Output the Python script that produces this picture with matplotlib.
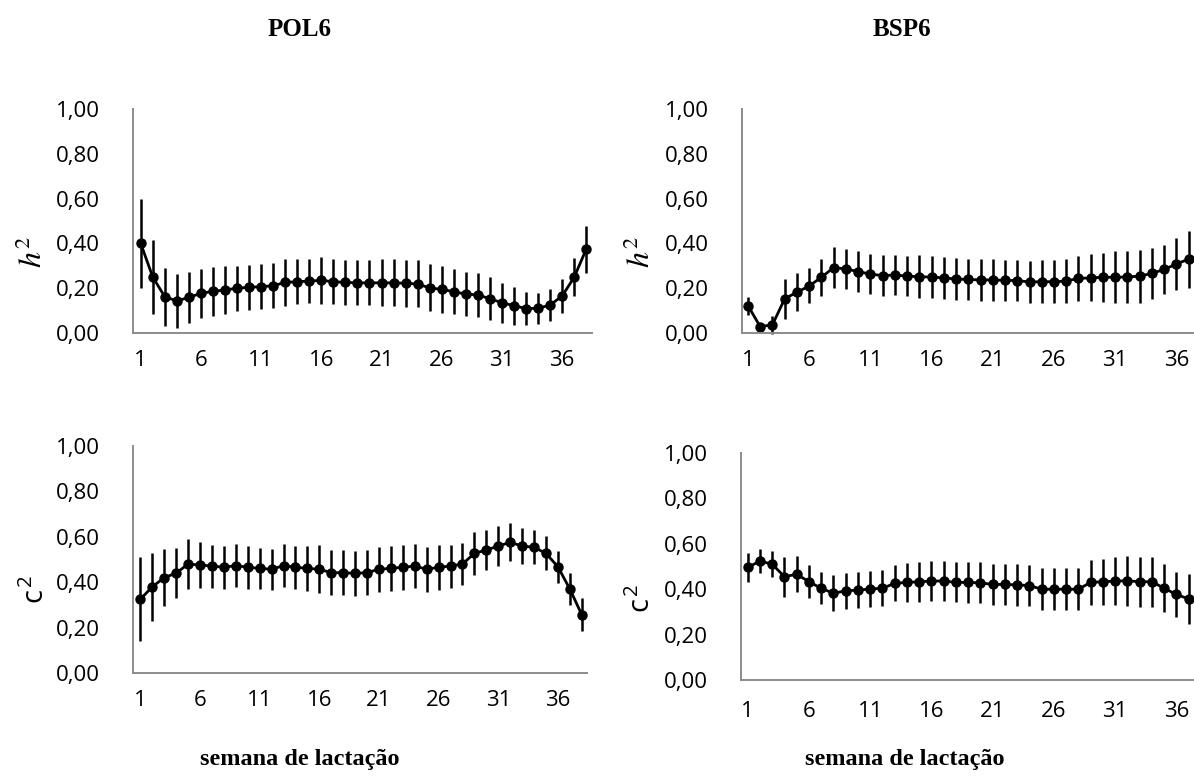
"""Heritability and permanent environment estimates by lactation week."""
import matplotlib
matplotlib.use("Agg")
import matplotlib.pyplot as plt
import numpy as np

weeks = np.arange(1, 39)
x_ticks = [1, 6, 11, 16, 21, 26, 31, 36]
y_ticks = [0.0, 0.2, 0.4, 0.6, 0.8, 1.0]

pol6_h2 = [0.400, 0.250, 0.162, 0.143, 0.159, 0.177, 0.186, 0.192, 0.200, 0.204,
           0.207, 0.211, 0.226, 0.229, 0.232, 0.235, 0.229, 0.226, 0.224, 0.224,
           0.224, 0.224, 0.222, 0.219, 0.201, 0.195, 0.184, 0.174, 0.170, 0.153,
           0.135, 0.122, 0.109, 0.110, 0.125, 0.165, 0.249, 0.374]
pol6_h2_err = [0.200, 0.165, 0.130, 0.120, 0.115, 0.110, 0.110, 0.105, 0.100, 0.100,
               0.100, 0.100, 0.105, 0.100, 0.100, 0.105, 0.100, 0.100, 0.100, 0.100,
               0.105, 0.105, 0.105, 0.105, 0.105, 0.105, 0.100, 0.100, 0.100, 0.095,
               0.090, 0.085, 0.075, 0.070, 0.070, 0.075, 0.085, 0.105]

bsp6_h2 = [0.122, 0.028, 0.037, 0.153, 0.182, 0.210, 0.249, 0.292, 0.286, 0.274,
           0.263, 0.256, 0.259, 0.254, 0.251, 0.250, 0.246, 0.241, 0.239, 0.237,
           0.237, 0.235, 0.234, 0.228, 0.229, 0.229, 0.232, 0.244, 0.246, 0.249,
           0.249, 0.250, 0.254, 0.266, 0.284, 0.308, 0.330, 0.345]
bsp6_h2_err = [0.040, 0.012, 0.040, 0.090, 0.085, 0.078, 0.083, 0.090, 0.090, 0.090,
               0.090, 0.090, 0.090, 0.090, 0.095, 0.095, 0.095, 0.093, 0.093, 0.093,
               0.093, 0.093, 0.093, 0.095, 0.095, 0.097, 0.097, 0.100, 0.105, 0.110,
               0.115, 0.118, 0.118, 0.115, 0.110, 0.115, 0.127, 0.130]

pol6_c2 = [0.325, 0.380, 0.420, 0.440, 0.480, 0.476, 0.471, 0.466, 0.473, 0.466,
           0.461, 0.457, 0.473, 0.466, 0.461, 0.457, 0.442, 0.442, 0.439, 0.442,
           0.457, 0.461, 0.466, 0.471, 0.457, 0.466, 0.471, 0.480, 0.527, 0.542,
           0.559, 0.576, 0.559, 0.554, 0.527, 0.468, 0.370, 0.257]
pol6_c2_err = [0.185, 0.150, 0.125, 0.110, 0.110, 0.100, 0.095, 0.095, 0.095, 0.095,
               0.090, 0.090, 0.095, 0.095, 0.100, 0.105, 0.098, 0.100, 0.100, 0.100,
               0.100, 0.100, 0.100, 0.098, 0.100, 0.100, 0.095, 0.092, 0.095, 0.090,
               0.088, 0.083, 0.080, 0.075, 0.075, 0.070, 0.070, 0.072]

bsp6_c2 = [0.496, 0.524, 0.510, 0.455, 0.466, 0.433, 0.404, 0.382, 0.393, 0.396,
           0.401, 0.404, 0.426, 0.430, 0.433, 0.436, 0.436, 0.430, 0.430, 0.428,
           0.421, 0.421, 0.419, 0.416, 0.400, 0.400, 0.400, 0.400, 0.430, 0.433,
           0.436, 0.437, 0.433, 0.433, 0.404, 0.377, 0.357, 0.350]
bsp6_c2_err = [0.063, 0.052, 0.058, 0.088, 0.080, 0.072, 0.070, 0.080, 0.080, 0.078,
               0.078, 0.080, 0.080, 0.085, 0.088, 0.088, 0.090, 0.088, 0.090, 0.090,
               0.090, 0.090, 0.092, 0.092, 0.092, 0.092, 0.093, 0.092, 0.100, 0.102,
               0.105, 0.110, 0.110, 0.110, 0.105, 0.100, 0.110, 0.110]

titles = ["POL6", "BSP6"]
x_title = "semana de lactação"

plt.rcParams["font.family"] = "Open Sans"
plt.rcParams["mathtext.fontset"] = "stix"

W, H = 1194, 780
fig = plt.figure(figsize=(W / 100, H / 100), dpi=100)


def px_axes(x0, x1, ytop, ybot):
    """Axes placed by pixel edges (top-left origin)."""
    return fig.add_axes([x0 / W, 1 - ybot / H, (x1 - x0) / W, (ybot - ytop) / H])


def panel(ax, y, err, ylabel, xlim, lab_x, lab_y, lab_size, xpad=12):
    ax.errorbar(weeks, y, yerr=err, fmt="-o", color="black", lw=2.0, ms=6.5,
                ecolor="black", elinewidth=1.8, capsize=0, clip_on=False)
    ax.set_xlim(*xlim)
    ax.set_ylim(0, 1)
    ax.set_xticks(x_ticks)
    ax.set_yticks(y_ticks, labels=[f"{v:.2f}".replace(".", ",") for v in y_ticks])
    ax.tick_params(length=0, labelsize=16)
    ax.tick_params(axis="y", pad=24)
    ax.tick_params(axis="x", pad=xpad)
    for s in ("top", "right"):
        ax.spines[s].set_visible(False)
    for s in ("left", "bottom"):
        ax.spines[s].set_color("#8c8c8c")
        ax.spines[s].set_linewidth(1.4)
    ax.set_ylabel(ylabel, fontsize=lab_size)
    ax.yaxis.set_label_coords(lab_x, lab_y)


ax_tl = px_axes(133, 592, 109, 333)
panel(ax_tl, pol6_h2, pol6_h2_err, r"$h^2$", (0.36, 38.48), -0.18, 0.36, 23)
ax_bl = px_axes(133, 587, 446, 673)
panel(ax_bl, pol6_c2, pol6_c2_err, r"$\mathregular{c^{\,2}}$", (0.38, 38.44), -0.18, 0.37, 21)
ax_tr = px_axes(742, 1207, 109, 333)
panel(ax_tr, bsp6_h2, bsp6_h2_err, r"$h^2$", (0.51, 38.5), -0.18, 0.36, 23)
ax_br = px_axes(741, 1207, 453, 680)
panel(ax_br, bsp6_c2, bsp6_c2_err, r"$\mathregular{c^{\,2}}$", (0.45, 38.5), -0.18, 0.36, 21,
      xpad=15)

for cx, t in zip((300, 902), titles):
    fig.text(cx / W, 1 - 30 / H, t, ha="center", va="center",
             family="Liberation Serif", weight="bold", fontsize=18)
for cx in (300, 905):
    fig.text(cx / W, 1 - 760 / H, x_title, ha="center", va="center",
             family="Liberation Serif", weight="bold", fontsize=17.5)

fig.savefig("out.png", dpi=100)
